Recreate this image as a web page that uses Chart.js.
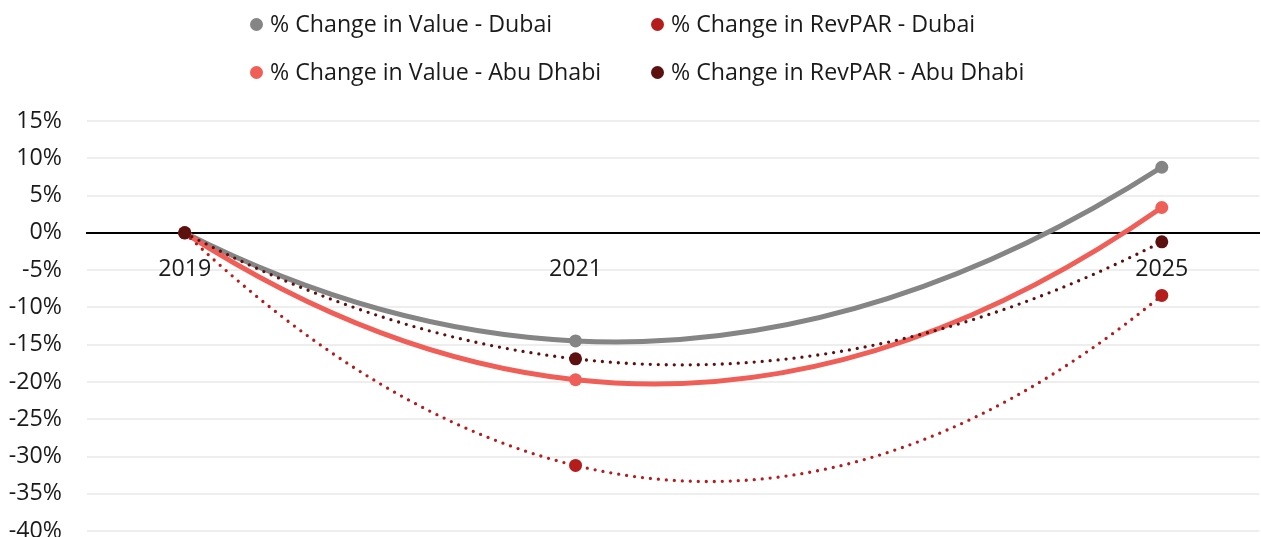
<!DOCTYPE html>
<html>
<head>
<meta charset="utf-8">
<script src="https://cdn.jsdelivr.net/npm/chart.js@4.4.1/dist/chart.umd.min.js"></script>
<style>
  html, body { margin: 0; padding: 0; background: #fff; overflow: hidden; }
  #wrap { position: relative; width: 1261px; height: 537px; overflow: hidden; }
  #c { position: absolute; left: 0; top: 0; }
  #legend { position: absolute; left: 0; top: 0; width: 1261px; height: 100px; font-family: "Open Sans", sans-serif; font-size: 23.2px; color: #1a1a1a; }
  .item { position: absolute; white-space: nowrap; line-height: 1; }
  .dot { position: absolute; width: 13px; height: 13px; border-radius: 50%; left: -6.5px; top: 50%; margin-top: -6.5px; }
  .txt { position: absolute; left: 14px; top: 50%; transform: translateY(-50%); }
</style>
</head>
<body>
<div id="wrap">
  <canvas id="c" width="1266" height="570" style="width:1266px;height:570px"></canvas>
  <div id="legend"></div>
</div>
<script>
// ---- data ----
const categories = ["2019", "", "2021", "", "", "2025"];
const valueDubai     = [0, null, -14.5, null, null, 8.8];
const revparDubai    = [0, null, -31.2, null, null, -8.4];
const valueAbuDhabi  = [0, null, -19.7, null, null, 3.4];
const revparAbuDhabi = [0, null, -16.9, null, null, -1.2];
const seriesNames = [
  "% Change in Value - Dubai",
  "% Change in RevPAR - Dubai",
  "% Change in Value - Abu Dhabi",
  "% Change in RevPAR - Abu Dhabi"
];
const yTicks = [15, 10, 5, 0, -5, -10, -15, -20, -25, -30, -35, -40];

const colors = ["#858585", "#B51C1C", "#EF5F58", "#5C1010"];
const FONT = "'Open Sans', sans-serif";
const FS = 23.2;

function ds(label, data, color, dotted, order) {
  return {
    label, data, order,
    borderColor: color,
    backgroundColor: color,
    borderWidth: dotted ? 3.3 : 5,
    borderDash: dotted ? [0, 8] : [],
    borderCapStyle: 'round',
    tension: 0.4,
    spanGaps: true,
    pointRadius: 6.5,
    pointBorderWidth: 0,
    pointBackgroundColor: color,
    fill: false
  };
}

const datasets = [
  ds(seriesNames[0], valueDubai, colors[0], false, 4),
  ds(seriesNames[1], revparDubai, colors[1], true, 2),
  ds(seriesNames[2], valueAbuDhabi, colors[2], false, 3),
  ds(seriesNames[3], revparAbuDhabi, colors[3], true, 1)
];

// HTML legend (2 columns x 2 rows)
const legendPos = [[256, 24], [657, 24], [256, 72], [657, 72]];
const leg = document.getElementById('legend');
datasets.forEach((d, i) => {
  const it = document.createElement('div');
  it.className = 'item';
  it.style.left = legendPos[i][0] + 'px';
  it.style.top = legendPos[i][1] + 'px';
  const dot = document.createElement('span');
  dot.className = 'dot';
  dot.style.background = d.borderColor;
  const t = document.createElement('span');
  t.className = 'txt';
  t.textContent = d.label;
  it.appendChild(dot); it.appendChild(t);
  leg.appendChild(it);
});

// Spreadsheet-style smoothing: tangent at each point from a 3-point parabola
const smoothPlugin = {
  id: 'sheetSmooth',
  beforeDatasetDraw(chart, args) {
    const meta = args.meta;
    if (!meta || meta.type !== 'line') return;
    const line = meta.dataset;
    line.updateControlPoints(chart.chartArea, meta.iScale.axis);
    const pts = meta.data.filter(p => !p.skip);
    const n = pts.length;
    if (n < 3) return;
    const slope = (i) => {
      let a, b, c, which;
      if (i === 0) { a = 0; b = 1; c = 2; which = 0; }
      else if (i === n - 1) { a = n - 3; b = n - 2; c = n - 1; which = 2; }
      else { a = i - 1; b = i; c = i + 1; which = 1; }
      const x0 = pts[a].x, x1 = pts[b].x, x2 = pts[c].x;
      const y0 = pts[a].y, y1 = pts[b].y, y2 = pts[c].y;
      const h0 = x1 - x0, h1 = x2 - x1;
      if (which === 0) return -(2*h0 + h1)/(h0*(h0+h1))*y0 + (h0+h1)/(h0*h1)*y1 - h0/(h1*(h0+h1))*y2;
      if (which === 2) return h1/(h0*(h0+h1))*y0 - (h0+h1)/(h0*h1)*y1 + (2*h1 + h0)/(h1*(h0+h1))*y2;
      return -h1/(h0*(h0+h1))*y0 + (h1-h0)/(h0*h1)*y1 + h0/(h1*(h0+h1))*y2;
    };
    for (let i = 0; i < n; i++) {
      const p = pts[i];
      const m = slope(i);
      const hl = i > 0 ? (p.x - pts[i-1].x) / 3 : 0;
      const hr = i < n - 1 ? (pts[i+1].x - p.x) / 3 : 0;
      p.cp1x = p.x - hl; p.cp1y = p.y - m * hl;
      p.cp2x = p.x + hr; p.cp2y = p.y + m * hr;
    }
    line._path = undefined;
  }
};

new Chart(document.getElementById('c'), {
  type: 'line',
  data: { labels: categories, datasets },
  plugins: [smoothPlugin],
  options: {
    responsive: false,
    maintainAspectRatio: false,
    animation: false,
    devicePixelRatio: 1,
    layout: { padding: { top: 121, bottom: 29.7, left: 0, right: 2 } },
    plugins: { legend: { display: false }, tooltip: { enabled: false } },
    scales: {
      x: {
        type: 'category',
        position: { y: 0 },
        offset: true,
        grid: { display: false, drawTicks: false },
        border: { display: true, color: '#000', width: 2 },
        ticks: {
          autoSkip: false, maxRotation: 0, minRotation: 0,
          padding: 23, color: '#1a1a1a',
          font: { family: FONT, size: FS }
        }
      },
      y: {
        min: -40, max: 15,
        afterBuildTicks: (s) => { s.ticks = yTicks.map(v => ({ value: v })); },
        afterFit: (s) => { s.width = 87; },
        grid: { color: '#EEEEEE', lineWidth: 2, drawTicks: false },
        border: { display: false },
        ticks: {
          padding: 25, color: '#1a1a1a',
          font: { family: FONT, size: FS },
          callback: (v) => v + '%'
        }
      }
    }
  }
});
</script>
</body>
</html>
